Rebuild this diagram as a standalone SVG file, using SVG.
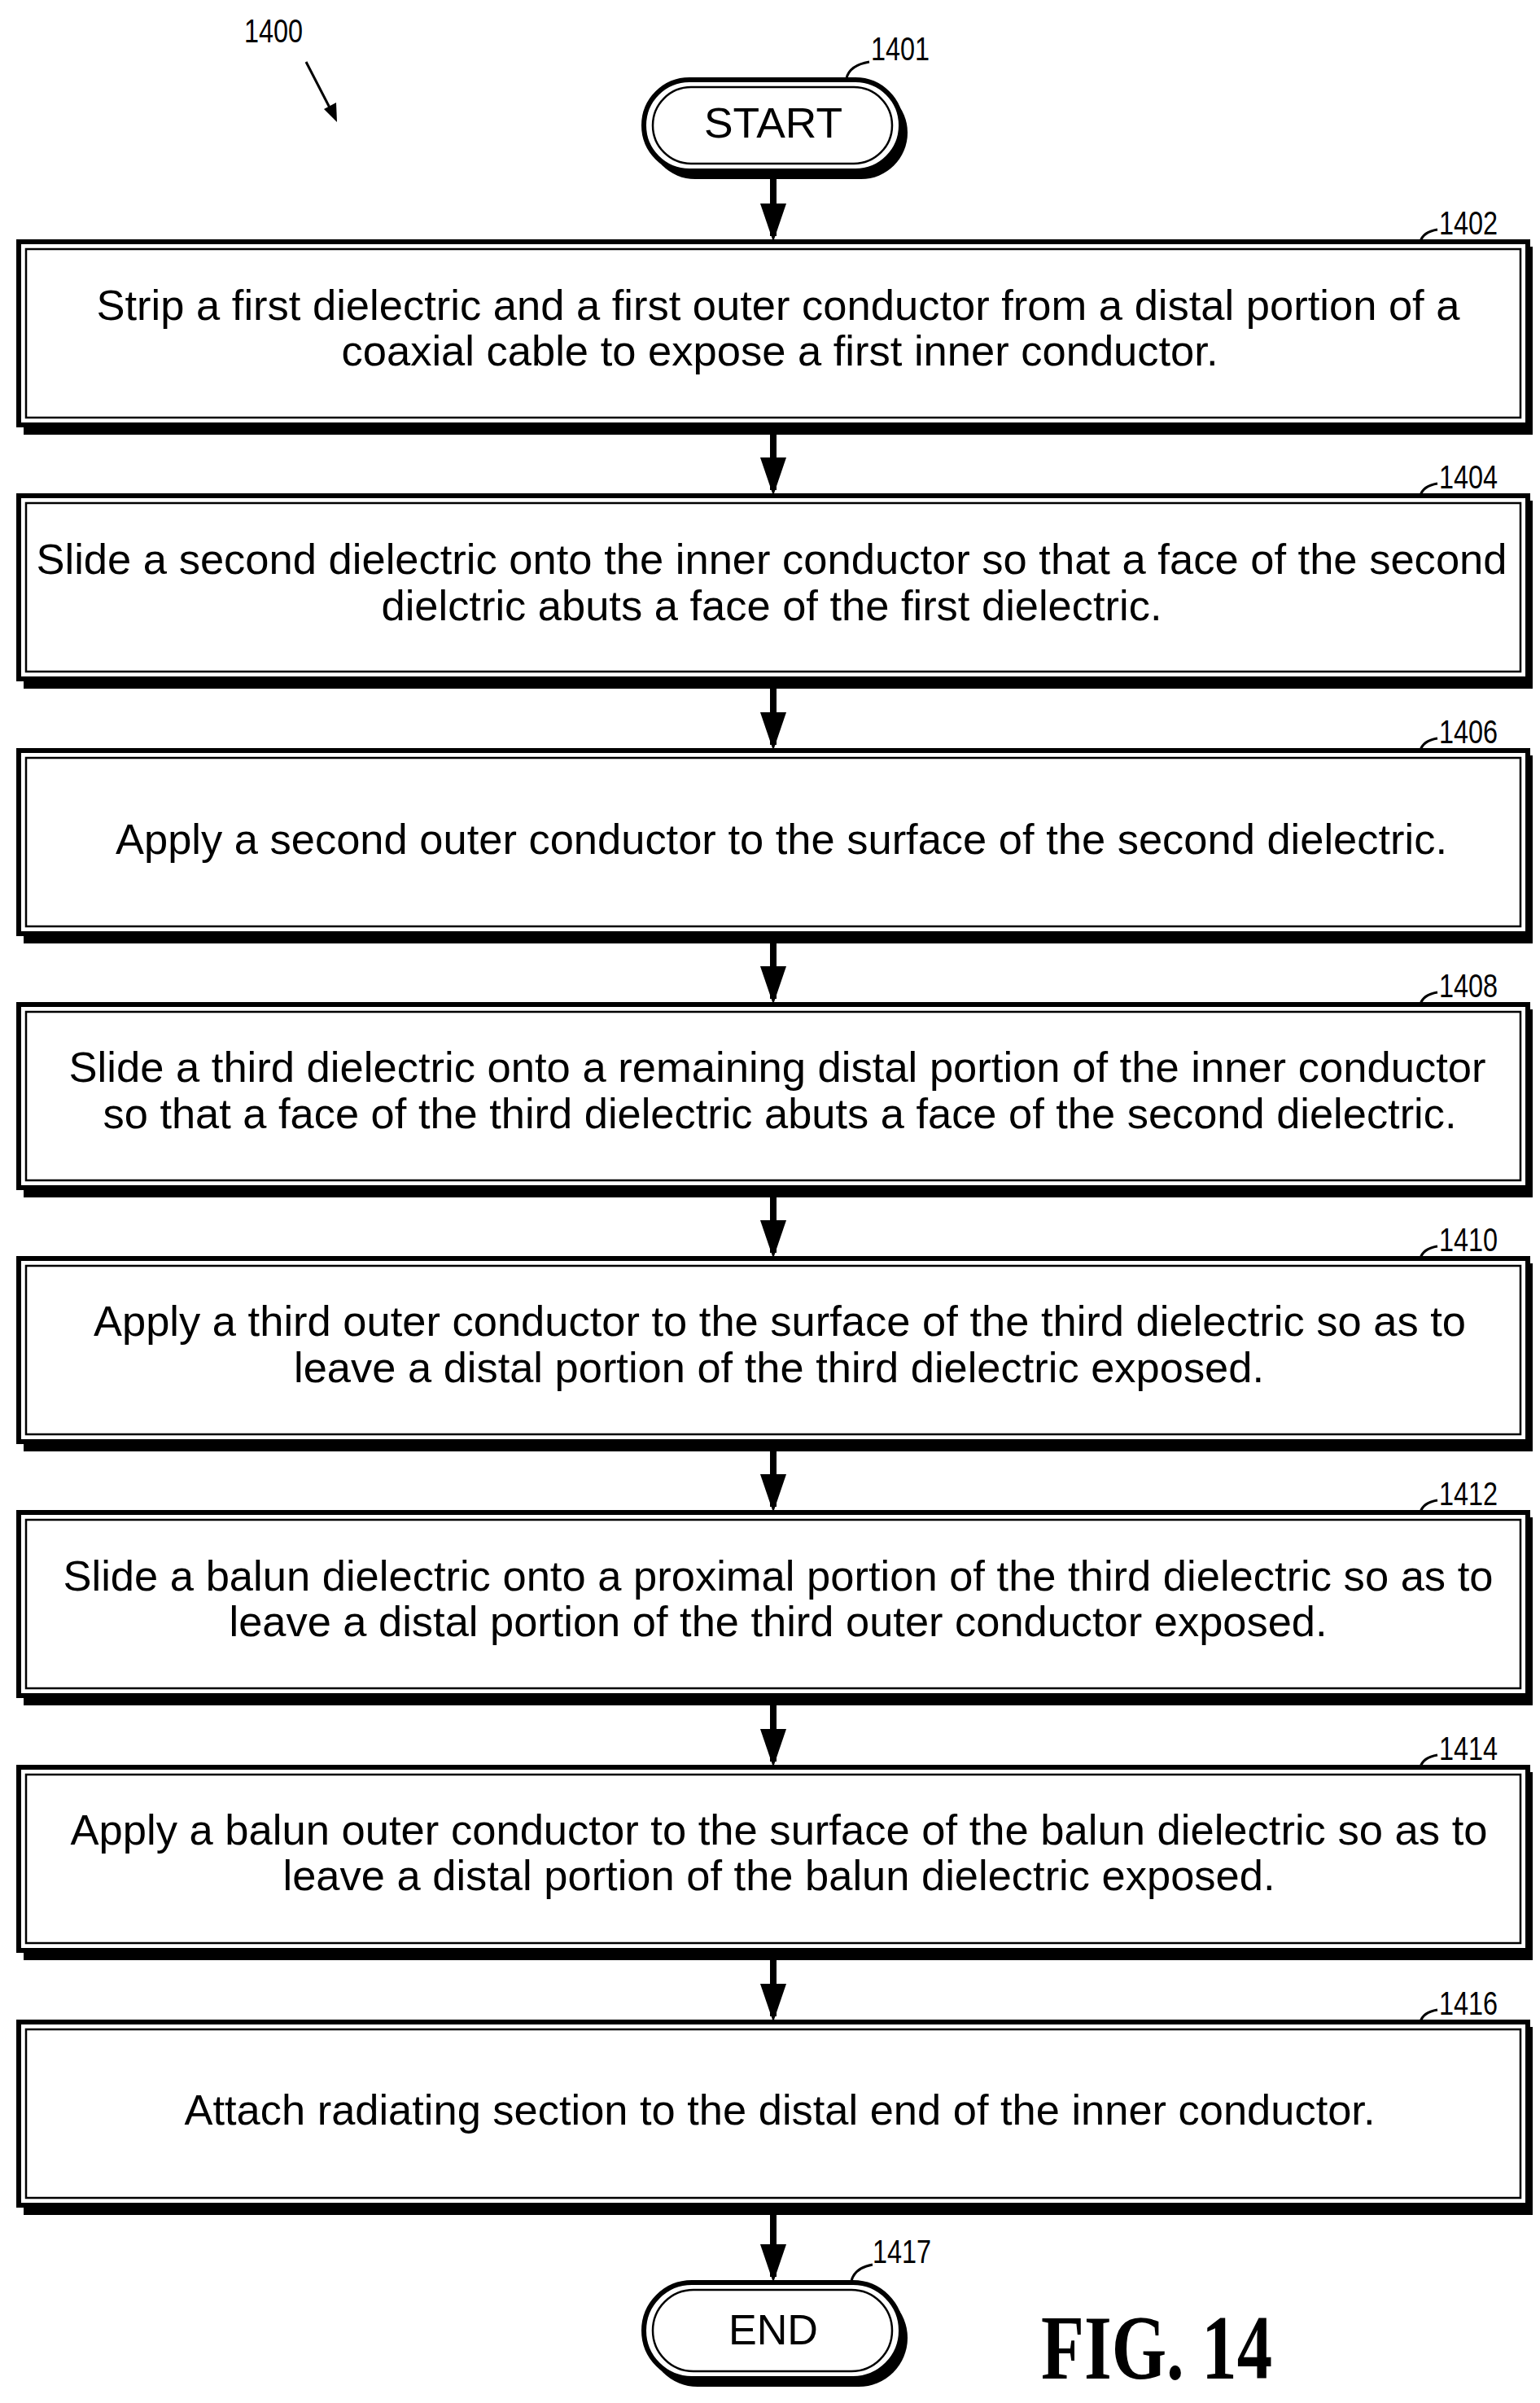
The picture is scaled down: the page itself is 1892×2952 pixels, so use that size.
<svg xmlns="http://www.w3.org/2000/svg" width="1892" height="2952" viewBox="0 0 1892 2952">
<style>
.t{font-family:"Liberation Sans",Arial,sans-serif;font-size:52px;fill:#000;text-anchor:middle}
.l{font-family:"Liberation Sans",Arial,sans-serif;font-size:40px;fill:#000}
.o{fill:#fff;stroke:#000;stroke-width:6}
.sh{fill:#000}
.i{fill:none;stroke:#000;stroke-width:2.5}
.c{stroke:#000;stroke-width:8;fill:none}
.ld{stroke:#000;stroke-width:3;fill:none}
</style>
<g id="label1400"><text class="l" x="300" y="52" textLength="72" lengthAdjust="spacingAndGlyphs">1400</text><path d="M376,76 L408,138" class="ld"/><path d="M398,134 L414,150 L413,126Z" fill="#000"/></g>
<g id="n1401"><rect x="797" y="106" width="318" height="114" rx="57" class="sh"/><rect x="791" y="98" width="316" height="112" rx="56" class="o"/><rect x="802" y="107" width="294" height="94" rx="47" class="i"/><text class="t" x="950" y="169" font-size="54" textLength="170" lengthAdjust="spacingAndGlyphs">START</text><text class="l" x="1070" y="74" textLength="72" lengthAdjust="spacingAndGlyphs">1401</text><path d="M1040,96 Q1044,80 1068,76" class="ld"/></g>
<g id="n1417"><rect x="797" y="2812" width="318" height="120" rx="60" class="sh"/><rect x="791" y="2804" width="316" height="118" rx="59" class="o"/><rect x="802" y="2813" width="294" height="100" rx="50" class="i"/><text class="t" x="950" y="2880" font-size="54" textLength="110" lengthAdjust="spacingAndGlyphs">END</text><text class="l" x="1072" y="2780" textLength="72" lengthAdjust="spacingAndGlyphs">1417</text><path d="M1046,2802 Q1050,2786 1072,2782" class="ld"/></g>
<g id="connectors">
<path d="M950,212 V290" class="c"/><path d="M934,250 L966,250 L950,297Z"/>
<path d="M950,528 V602" class="c"/><path d="M934,562 L966,562 L950,609Z"/>
<path d="M950,840 V915" class="c"/><path d="M934,875 L966,875 L950,922Z"/>
<path d="M950,1153 V1227" class="c"/><path d="M934,1187 L966,1187 L950,1234Z"/>
<path d="M950,1465 V1539" class="c"/><path d="M934,1499 L966,1499 L950,1546Z"/>
<path d="M950,1777 V1851" class="c"/><path d="M934,1811 L966,1811 L950,1858Z"/>
<path d="M950,2089 V2164" class="c"/><path d="M934,2124 L966,2124 L950,2171Z"/>
<path d="M950,2402 V2477" class="c"/><path d="M934,2437 L966,2437 L950,2484Z"/>
<path d="M950,2715 V2797" class="c"/><path d="M934,2757 L966,2757 L950,2804Z"/>
</g>
<g id="n1402"><rect x="29" y="303" width="1854" height="231" class="sh"/><rect x="23" y="297" width="1854" height="225" class="o"/><rect x="32" y="306" width="1836" height="207" class="i"/><text class="t" x="956" y="393" textLength="1675" lengthAdjust="spacingAndGlyphs">Strip a first dielectric and a first outer conductor from a distal portion of a</text><text class="t" x="958" y="449" textLength="1077" lengthAdjust="spacingAndGlyphs">coaxial cable to expose a first inner conductor.</text><text class="l" x="1768" y="288" textLength="72" lengthAdjust="spacingAndGlyphs">1402</text><path d="M1745,297 Q1748,285 1766,282" class="ld"/></g>
<g id="n1404"><rect x="29" y="615" width="1854" height="231" class="sh"/><rect x="23" y="609" width="1854" height="225" class="o"/><rect x="32" y="618" width="1836" height="207" class="i"/><text class="t" x="948" y="705" textLength="1807" lengthAdjust="spacingAndGlyphs">Slide a second dielectric onto the inner conductor so that a face of the second</text><text class="t" x="948" y="762" textLength="959" lengthAdjust="spacingAndGlyphs">dielctric abuts a face of the first dielectric.</text><text class="l" x="1768" y="600" textLength="72" lengthAdjust="spacingAndGlyphs">1404</text><path d="M1745,609 Q1748,597 1766,594" class="ld"/></g>
<g id="n1406"><rect x="29" y="928" width="1854" height="231" class="sh"/><rect x="23" y="922" width="1854" height="225" class="o"/><rect x="32" y="931" width="1836" height="207" class="i"/><text class="t" x="960" y="1049" textLength="1636" lengthAdjust="spacingAndGlyphs">Apply a second outer conductor to the surface of the second dielectric.</text><text class="l" x="1768" y="913" textLength="72" lengthAdjust="spacingAndGlyphs">1406</text><path d="M1745,922 Q1748,910 1766,907" class="ld"/></g>
<g id="n1408"><rect x="29" y="1240" width="1854" height="231" class="sh"/><rect x="23" y="1234" width="1854" height="225" class="o"/><rect x="32" y="1243" width="1836" height="207" class="i"/><text class="t" x="955" y="1329" textLength="1741" lengthAdjust="spacingAndGlyphs">Slide a third dielectric onto a remaining distal portion of the inner conductor</text><text class="t" x="958" y="1386" textLength="1663" lengthAdjust="spacingAndGlyphs">so that a face of the third dielectric abuts a face of the second dielectric.</text><text class="l" x="1768" y="1225" textLength="72" lengthAdjust="spacingAndGlyphs">1408</text><path d="M1745,1234 Q1748,1222 1766,1219" class="ld"/></g>
<g id="n1410"><rect x="29" y="1552" width="1854" height="231" class="sh"/><rect x="23" y="1546" width="1854" height="225" class="o"/><rect x="32" y="1555" width="1836" height="207" class="i"/><text class="t" x="958" y="1641" textLength="1686" lengthAdjust="spacingAndGlyphs">Apply a third outer conductor to the surface of the third dielectric so as to</text><text class="t" x="957" y="1698" textLength="1192" lengthAdjust="spacingAndGlyphs">leave a distal portion of the third dielectric exposed.</text><text class="l" x="1768" y="1537" textLength="72" lengthAdjust="spacingAndGlyphs">1410</text><path d="M1745,1546 Q1748,1534 1766,1531" class="ld"/></g>
<g id="n1412"><rect x="29" y="1864" width="1854" height="231" class="sh"/><rect x="23" y="1858" width="1854" height="225" class="o"/><rect x="32" y="1867" width="1836" height="207" class="i"/><text class="t" x="956" y="1954" textLength="1757" lengthAdjust="spacingAndGlyphs">Slide a balun dielectric onto a proximal portion of the third dielectric so as to</text><text class="t" x="956" y="2010" textLength="1349" lengthAdjust="spacingAndGlyphs">leave a distal portion of the third outer conductor exposed.</text><text class="l" x="1768" y="1849" textLength="72" lengthAdjust="spacingAndGlyphs">1412</text><path d="M1745,1858 Q1748,1846 1766,1843" class="ld"/></g>
<g id="n1414"><rect x="29" y="2177" width="1854" height="231" class="sh"/><rect x="23" y="2171" width="1854" height="225" class="o"/><rect x="32" y="2180" width="1836" height="207" class="i"/><text class="t" x="957" y="2266" textLength="1741" lengthAdjust="spacingAndGlyphs">Apply a balun outer conductor to the surface of the balun dielectric so as to</text><text class="t" x="957" y="2322" textLength="1219" lengthAdjust="spacingAndGlyphs">leave a distal portion of the balun dielectric exposed.</text><text class="l" x="1768" y="2162" textLength="72" lengthAdjust="spacingAndGlyphs">1414</text><path d="M1745,2171 Q1748,2159 1766,2156" class="ld"/></g>
<g id="n1416"><rect x="29" y="2490" width="1854" height="231" class="sh"/><rect x="23" y="2484" width="1854" height="225" class="o"/><rect x="32" y="2493" width="1836" height="207" class="i"/><text class="t" x="958" y="2610" textLength="1463" lengthAdjust="spacingAndGlyphs">Attach radiating section to the distal end of the inner conductor.</text><text class="l" x="1768" y="2475" textLength="72" lengthAdjust="spacingAndGlyphs">1416</text><path d="M1745,2484 Q1748,2472 1766,2469" class="ld"/></g>
<text x="1279" y="2922" textLength="284" lengthAdjust="spacingAndGlyphs" style="font-family:'Liberation Serif',serif;font-weight:bold;font-size:112px">FIG. 14</text>
</svg>
